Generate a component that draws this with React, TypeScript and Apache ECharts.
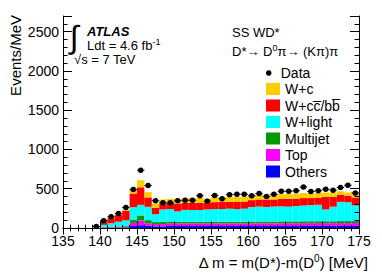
import React, { useEffect, useRef } from "react";
import * as echarts from "echarts";

const FONT = '"Liberation Sans", Arial, Helvetica, sans-serif';

// bin low edges (1 MeV bins)
const binLow = [
  135, 136, 137, 138, 139, 140, 141, 142, 143, 144,
  145, 146, 147, 148, 149, 150, 151, 152, 153, 154,
  155, 156, 157, 158, 159, 160, 161, 162, 163, 164,
  165, 166, 167, 168, 169, 170, 171, 172, 173, 174,
];

const xTicks = [135, 140, 145, 150, 155, 160, 165, 170, 175];
const yTicks = [0, 500, 1000, 1500, 2000, 2500];

const dataValues = [
  null, null, null, null, 18, 92, 143, 186, 262, 490,
  734, 540, 346, 320, 320, 346, 354, 354, 410, 342,
  414, 371, 422, 430, 430, 412, 439, 401, 430, 468,
  468, 476, 523, 464, 476, 494, 481, 515, 544, 447,
];

const others = [
  0, 0, 0, 0, 0, 2, 3, 4, 5, 25,
  35, 30, 20, 20, 25, 25, 25, 25, 25, 25,
  25, 25, 25, 25, 25, 25, 25, 25, 25, 25,
  25, 25, 26, 26, 26, 26, 26, 26, 26, 26,
];
const top = [
  0, 0, 0, 0, 0, 4, 6, 8, 12, 40,
  60, 30, 30, 30, 35, 34, 34, 34, 34, 34,
  34, 34, 34, 34, 34, 35, 35, 35, 35, 36,
  36, 36, 36, 36, 36, 36, 36, 37, 37, 37,
];
const multijet = [
  0, 0, 0, 0, 0, 4, 6, 8, 12, 40,
  65, 40, 25, 30, 22, 22, 22, 22, 22, 22,
  22, 22, 22, 22, 22, 22, 23, 23, 23, 23,
  23, 23, 24, 24, 24, 24, 24, 25, 25, 25,
];
const wLight = [
  0, 0, 0, 0, 0, 30, 45, 60, 70, 160,
  135, 170, 100, 156, 160, 130, 150, 148, 148, 155,
  160, 160, 165, 160, 165, 185, 190, 185, 190, 192,
  188, 195, 200, 205, 210, 150, 185, 245, 240, 200,
];
const wHF = [
  0, 0, 0, 0, 0, 48, 65, 85, 120, 174,
  223, 119, 80, 76, 80, 100, 90, 90, 92, 85,
  88, 90, 85, 95, 90, 88, 90, 95, 90, 95,
  100, 95, 95, 90, 90, 160, 125, 90, 85, 100,
];
const wC = [
  0, 0, 0, 0, 0, 7, 12, 15, 20, 42,
  90, 67, 55, 52, 50, 55, 55, 60, 58, 55,
  60, 55, 65, 60, 60, 62, 62, 60, 65, 62,
  65, 60, 65, 60, 60, 55, 55, 45, 40, 70,
];

const NAME_HF = "W+c\u0063\u0305/b\u0062\u0305";

const dataSymbol =
  "path://M-3.7,-0.5L3.7,-0.5L3.7,0.5L-3.7,0.5Z M0,-2.75A2.75,2.75 0 1 1 0,2.75A2.75,2.75 0 1 1 0,-2.75Z";

export default function App() {
  const ref = useRef<HTMLDivElement>(null);

  useEffect(() => {
    if (!ref.current) return;
    const chart = echarts.init(ref.current, undefined, { renderer: "svg" });
    const cats = binLow.map((b) => String(b + 0.5));
    const blk = { color: "#000", width: 1 };
    const baseAxis = {
      axisLine: { show: true, lineStyle: blk },
      splitLine: { show: false },
      z: 5,
    };
    const plain = (v: number) => String(v);
    const stackSeries = [
      { name: "Others", data: others, color: "#0000ff" },
      { name: "Top", data: top, color: "#ff00ff" },
      { name: "Multijet", data: multijet, color: "#009900" },
      { name: "W+light", data: wLight, color: "#00ffff" },
      { name: NAME_HF, data: wHF, color: "#ff0000" },
      { name: "W+c", data: wC, color: "#ffcc00" },
    ].map((s) => ({
      type: "bar",
      name: s.name,
      stack: "mc",
      xAxisIndex: 2,
      yAxisIndex: 0,
      data: s.data,
      barWidth: "100%",
      barCategoryGap: "0%",
      itemStyle: { color: s.color, opacity: 1 },
      z: 2,
    }));

    chart.setOption({
      animation: false,
      backgroundColor: "#fff",
      textStyle: { fontFamily: FONT },
      grid: { left: 63, right: 23, top: 16, bottom: 46, containLabel: false, outerBoundsMode: "none" },
      xAxis: [
        {
          ...baseAxis,
          type: "value",
          position: "bottom",
          min: xTicks[0],
          max: xTicks[xTicks.length - 1],
          interval: xTicks[1] - xTicks[0],
          axisTick: { show: true, inside: true, length: 6.5, lineStyle: blk },
          minorTick: { show: true, splitNumber: 5, length: 3.3, lineStyle: blk },
          axisLabel: { show: true, fontSize: 14, fontFamily: FONT, color: "#000", margin: 7, lineHeight: 12, formatter: plain },
        },
        {
          ...baseAxis,
          type: "value",
          position: "top",
          min: xTicks[0],
          max: xTicks[xTicks.length - 1],
          interval: xTicks[1] - xTicks[0],
          axisTick: { show: true, inside: true, length: 6.5, lineStyle: blk },
          minorTick: { show: true, splitNumber: 5, length: 3.3, lineStyle: blk },
          axisLabel: { show: false },
        },
        {
          type: "category",
          data: cats,
          show: false,
          boundaryGap: true,
        },
      ],
      yAxis: [
        {
          ...baseAxis,
          type: "value",
          position: "left",
          min: yTicks[0],
          max: 2700,
          interval: yTicks[1] - yTicks[0],
          axisTick: { show: true, inside: true, length: 9, lineStyle: blk },
          minorTick: { show: true, splitNumber: 5, length: 4.5, lineStyle: blk },
          axisLabel: {
            show: true,
            fontSize: 14,
            fontFamily: FONT,
            color: "#000",
            margin: 4,
            lineHeight: 12,
            showMaxLabel: false,
            formatter: plain,
          },
        },
        {
          ...baseAxis,
          type: "value",
          position: "right",
          min: yTicks[0],
          max: 2700,
          interval: yTicks[1] - yTicks[0],
          axisTick: { show: true, inside: true, length: 9, lineStyle: blk },
          minorTick: { show: true, splitNumber: 5, length: 4.5, lineStyle: blk },
          axisLabel: { show: false },
        },
      ],
      legend: [
        {
          data: [{ name: "Data", icon: "circle" }],
          orient: "vertical",
          left: 266,
          top: 66,
          padding: 0,
          itemWidth: 14,
          itemHeight: 5.5,
          selectedMode: false,
          textStyle: { fontSize: 14, fontFamily: FONT, color: "#000", lineHeight: 14 },
        },
        {
          data: ["W+c", NAME_HF, "W+light", "Multijet", "Top", "Others"].map((n) => ({ name: n, icon: "rect" })),
          orient: "vertical",
          left: 266,
          top: 82,
          padding: 0,
          itemWidth: 14,
          itemHeight: 12,
          itemGap: 2.5,
          selectedMode: false,
          textStyle: { fontSize: 14, fontFamily: FONT, color: "#000", lineHeight: 14 },
        },
      ],
      series: [
        ...stackSeries,
        {
          type: "scatter",
          name: "Data",
          xAxisIndex: 2,
          yAxisIndex: 0,
          data: dataValues.map((v) => (v == null ? "-" : v)),
          symbol: dataSymbol,
          symbolSize: [7.4, 5.5],
          itemStyle: { color: "#000", opacity: 1 },
          z: 6,
        },
      ],
      graphic: [
        {
          type: "text",
          x: 15,
          y: 15,
          rotation: Math.PI / 2,
          style: { text: "Events/MeV", font: `15px ${FONT}`, fill: "#000", align: "right", verticalAlign: "middle" },
        },
        {
          type: "text",
          x: 368,
          y: 262,
          style: {
            text: "Δ m = m(D*)-m(D{s|0}) [MeV]",
            font: `15px ${FONT}`,
            fill: "#000",
            align: "right",
            verticalAlign: "middle",
            lineHeight: 18,
            rich: { s: { fontSize: 10, fontFamily: FONT, verticalAlign: "top", fill: "#000" } },
          },
        },
        {
          type: "text",
          x: 74,
          y: 37,
          style: { text: "∫", font: `32px ${FONT}`, fill: "#000", align: "center", verticalAlign: "middle" },
        },
        {
          type: "text",
          x: 87,
          y: 31,
          style: { text: "ATLAS", font: `italic bold 13px ${FONT}`, fill: "#000", align: "left", verticalAlign: "middle" },
        },
        {
          type: "text",
          x: 87,
          y: 45,
          style: {
            text: "Ldt = 4.6 fb{s|-1}",
            font: `13px ${FONT}`,
            fill: "#000",
            align: "left",
            verticalAlign: "middle",
            lineHeight: 16,
            rich: { s: { fontSize: 9, fontFamily: FONT, verticalAlign: "top", fill: "#000" } },
          },
        },
        {
          type: "text",
          x: 74,
          y: 59,
          style: { text: "√s = 7 TeV", font: `13px ${FONT}`, fill: "#000", align: "left", verticalAlign: "middle" },
        },
        {
          type: "text",
          x: 232,
          y: 32,
          style: { text: "SS WD*", font: `13px ${FONT}`, fill: "#000", align: "left", verticalAlign: "middle" },
        },
        {
          type: "text",
          x: 232,
          y: 51,
          style: {
            text: "D*→ D{s|0}π→ (Kπ)π",
            font: `13px ${FONT}`,
            fill: "#000",
            align: "left",
            verticalAlign: "middle",
            lineHeight: 16,
            rich: { s: { fontSize: 9, fontFamily: FONT, verticalAlign: "top", fill: "#000" } },
          },
        },
      ],
    });
    return () => chart.dispose();
  }, []);

  return (
    <div
      ref={ref}
      style={{ position: "absolute", left: 0, top: 0, width: 382, height: 274, background: "#fff" }}
    />
  );
}
